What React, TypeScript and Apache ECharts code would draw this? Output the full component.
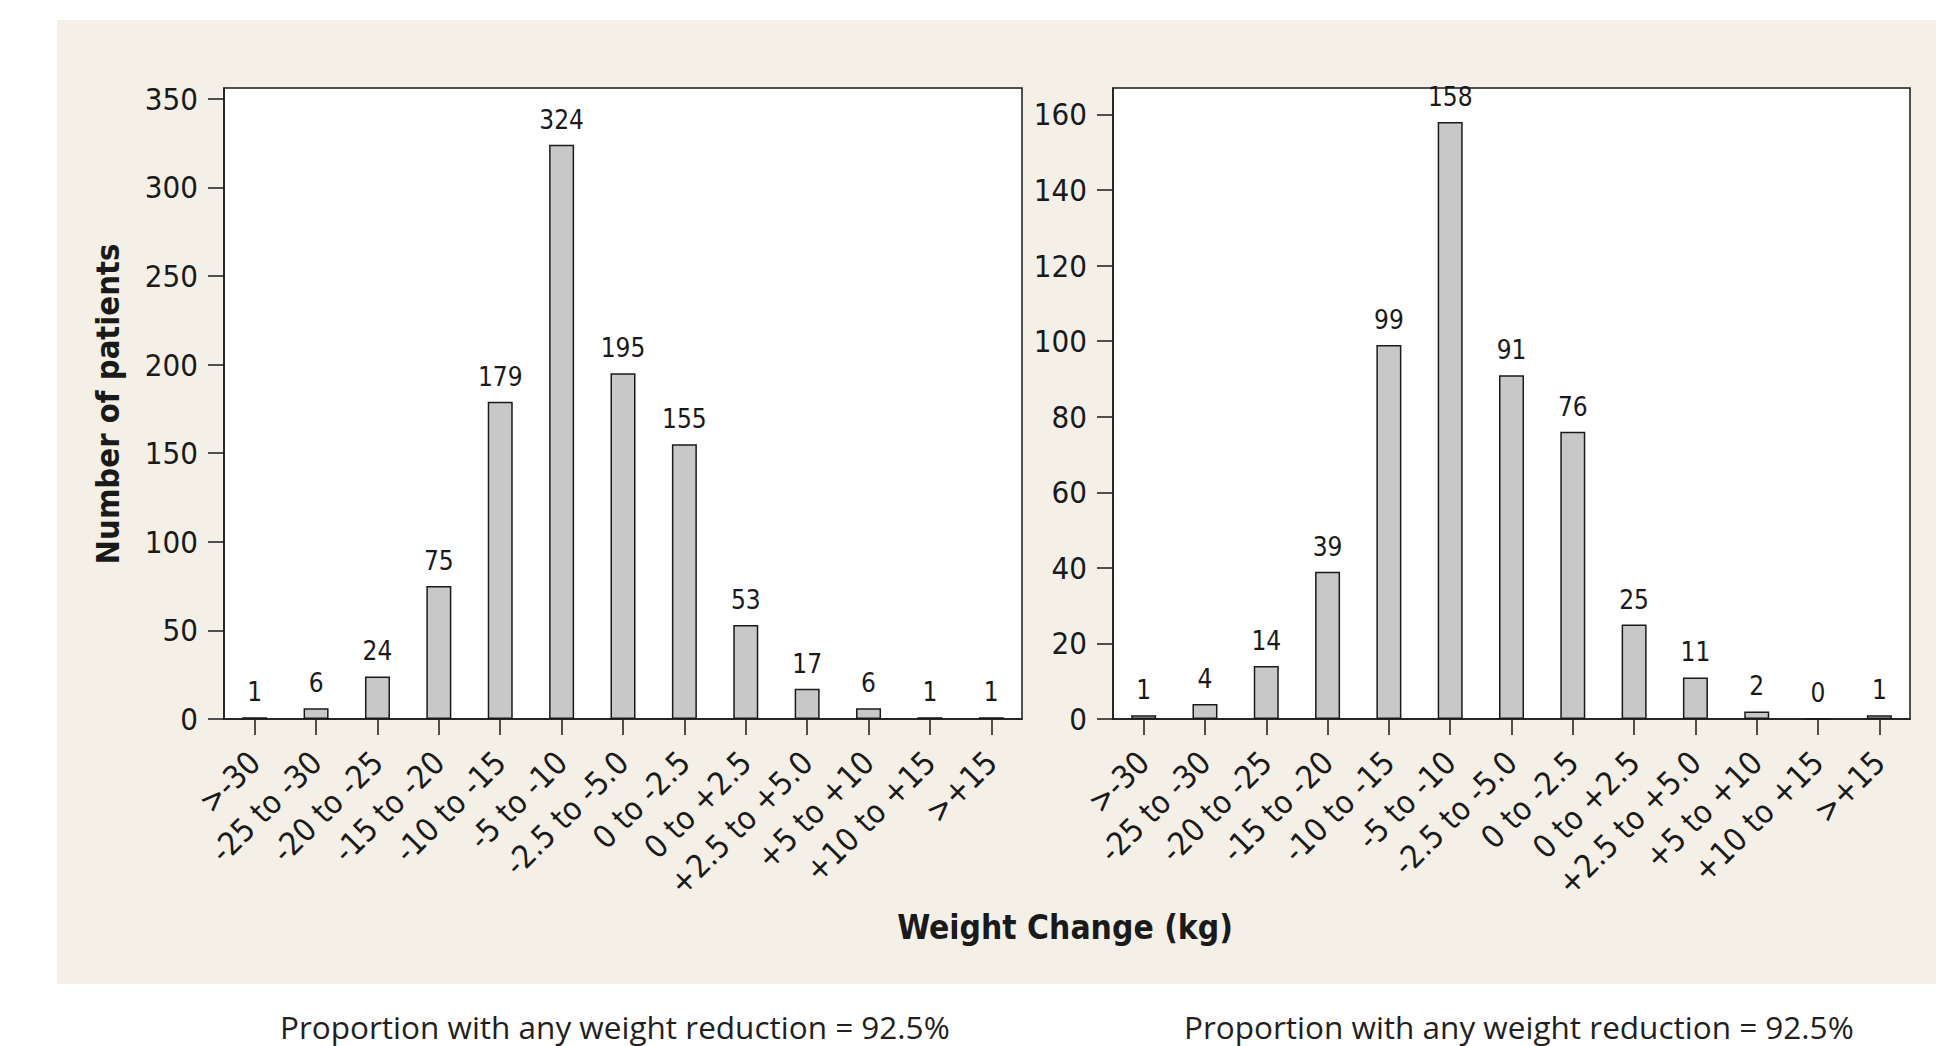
import React, { useEffect, useRef } from "react";
import * as echarts from "echarts";

const categories = [
  ">-30",
  "-25 to -30",
  "-20 to -25",
  "-15 to -20",
  "-10 to -15",
  "-5 to -10",
  "-2.5 to -5.0",
  "0 to -2.5",
  "0 to +2.5",
  "+2.5 to +5.0",
  "+5 to +10",
  "+10 to +15",
  ">+15",
];
const leftCounts = [1, 6, 24, 75, 179, 324, 195, 155, 53, 17, 6, 1, 1];
const rightCounts = [1, 4, 14, 39, 99, 158, 91, 76, 25, 11, 2, 0, 1];
const leftTicks = [0, 50, 100, 150, 200, 250, 300, 350];
const rightTicks = [0, 20, 40, 60, 80, 100, 120, 140, 160];
const yTitle = "Number of patients";
const xTitle = "Weight Change (kg)";
const footnotes = [
  "Proportion with any weight reduction = 92.5%",
  "Proportion with any weight reduction = 92.5%",
];

const CF = "'DejaVu Sans Condensed', 'DejaVu Sans', sans-serif";
const INK = "#1a1a1a";

function xAxisFor(gridIndex: number) {
  return {
    type: "category",
    gridIndex,
    data: categories,
    boundaryGap: true,
    axisLine: { show: true, lineStyle: { color: INK, width: 1.5 } },
    axisTick: { show: true, alignWithLabel: true, length: 16, lineStyle: { color: INK, width: 1.5 } },
    axisLabel: { interval: 0, rotate: 45, margin: 38, fontSize: 32, fontFamily: CF, color: INK },
    splitLine: { show: false },
  };
}

function yAxisFor(gridIndex: number, max: number, ticks: number[]) {
  return {
    type: "value",
    gridIndex,
    min: 0,
    max,
    axisLine: { show: true, lineStyle: { color: INK, width: 1.5 } },
    axisTick: { show: true, length: 16, customValues: ticks, lineStyle: { color: INK, width: 1.5 } },
    axisLabel: { margin: 26, fontSize: 31, fontFamily: CF, color: INK, customValues: ticks },
    splitLine: { show: false },
  };
}

function barSeries(idx: number, data: number[]) {
  return {
    type: "bar",
    xAxisIndex: idx,
    yAxisIndex: idx,
    data,
    barWidth: 25,
    itemStyle: { color: "#c8c8c8", borderColor: INK, borderWidth: 1.5 },
    label: { show: true, position: "top", distance: 12, fontSize: 26, fontFamily: CF, color: INK },
  };
}

export default function App() {
  const ref = useRef<HTMLDivElement>(null);
  useEffect(() => {
    if (!ref.current) return;
    const chart = echarts.init(ref.current, undefined, { renderer: "svg" });
    chart.setOption({
      animation: false,
      backgroundColor: "transparent",
      grid: [
        { left: 224, top: 88, width: 798, height: 631, show: true, backgroundColor: "#ffffff", borderColor: INK, borderWidth: 1.5 },
        { left: 1113, top: 88, width: 797, height: 631, show: true, backgroundColor: "#ffffff", borderColor: INK, borderWidth: 1.5 },
      ],
      xAxis: [xAxisFor(0), xAxisFor(1)],
      yAxis: [yAxisFor(0, 356, leftTicks), yAxisFor(1, 167, rightTicks)],
      series: [barSeries(0, leftCounts), barSeries(1, rightCounts)],
      graphic: [
        {
          type: "text",
          x: 108,
          y: 404,
          rotation: Math.PI / 2,
          style: { text: yTitle, fontSize: 32.5, fontWeight: "bold", fontFamily: CF, fill: INK, align: "center", verticalAlign: "middle" },
        },
        {
          type: "text",
          x: 1065,
          y: 927,
          style: { text: xTitle, fontSize: 33.3, fontWeight: "bold", fontFamily: CF, fill: INK, align: "center", verticalAlign: "middle" },
        },
        {
          type: "text",
          x: 280,
          y: 1026,
          style: { text: footnotes[0], fontSize: 31.5, fontFamily: "'Open Sans', sans-serif", fill: "#231f20", align: "left", verticalAlign: "middle" },
        },
        {
          type: "text",
          x: 1184,
          y: 1026,
          style: { text: footnotes[1], fontSize: 31.5, fontFamily: "'Open Sans', sans-serif", fill: "#231f20", align: "left", verticalAlign: "middle" },
        },
      ],
    });
    return () => chart.dispose();
  }, []);
  return (
    <div style={{ position: "fixed", left: 0, top: 0, width: 1936, height: 1046, background: "#ffffff", overflow: "hidden" }}>
      <div style={{ position: "absolute", left: 57, top: 20, width: 1879, height: 964, background: "#f4f0e8" }} />
      <div ref={ref} style={{ position: "absolute", left: 0, top: 0, width: 1936, height: 1046 }} />
    </div>
  );
}
